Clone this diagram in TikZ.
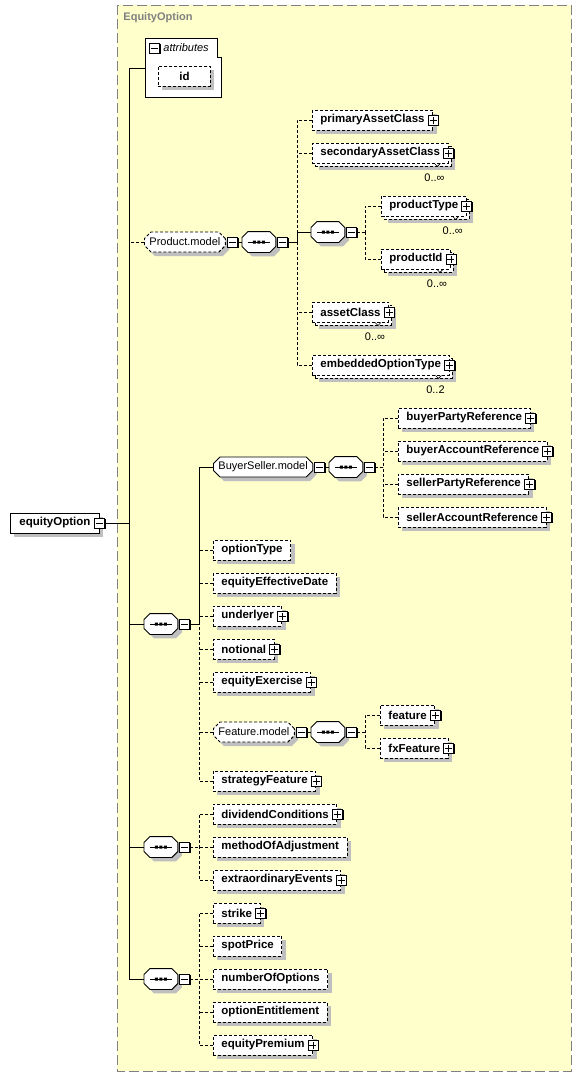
\documentclass[tikz,border=0pt]{standalone}
\usepackage{fontspec}
\setmainfont{Liberation Sans}
\usetikzlibrary{shapes.misc,shadows,positioning}
\definecolor{bgyellow}{RGB}{255,255,204}
\definecolor{framegray}{RGB}{128,128,128}
% outline of a sequence compositor round node #1, moved by #2
\newcommand{\octpath}[2]{([shift={(#2+6,#2)}]#1.north west) -- ([shift={(#2-6,#2)}]#1.north east)
  -- ([shift={(#2,#2+6)}]#1.north east) -- ([shift={(#2,#2-6)}]#1.south east)
  -- ([shift={(#2-6,#2)}]#1.south east) -- ([shift={(#2+6,#2)}]#1.south west)
  -- ([shift={(#2,#2-6)}]#1.south west) -- ([shift={(#2,#2+6)}]#1.north west) -- cycle}
\newcommand{\seqshape}[1]{%
  \fill[black!25] \octpath{#1}{4};
  \draw[fill=white] \octpath{#1}{0};
  \draw[line width=1pt] ([xshift=-11pt]#1.center) -- ([xshift=11pt]#1.center);
  \fill ([shift={(-6,-1.5)}]#1.center) rectangle ++(3,3)
        ([shift={(-1.5,-1.5)}]#1.center) rectangle ++(3,3)
        ([shift={(3,-1.5)}]#1.center) rectangle ++(3,3);}

\begin{document}
\begin{tikzpicture}[x=1pt,y=-1pt,line width=0.9pt,
  dashline/.style={dash pattern=on 3pt off 2pt},
  shad/.style={drop shadow={shadow xshift=4pt,shadow yshift=-4pt,fill=black!25,draw=none,opacity=1}},
  xbox/.style={draw,fill=white,dashline,anchor=west,minimum height=20pt,inner xsep=8pt,inner ysep=0pt,font=\bfseries\fontsize{11.5}{13}\selectfont},
  elem/.style={xbox,shad},
  simple/.style={path picture={\draw[solid,line width=0.6pt]
      ([shift={(2pt,1pt)}]path picture bounding box.north west) -- ++(5pt,0pt)
      ([shift={(2pt,2.8pt)}]path picture bounding box.north west) -- ++(5pt,0pt)
      ([shift={(2pt,4.6pt)}]path picture bounding box.north west) -- ++(5pt,0pt);}},
  mult/.style={font=\fontsize{11}{13}\selectfont,inner sep=0pt},
  plusbox/.style={draw,fill=white,solid,minimum size=10pt,inner sep=0pt,line width=0.8pt,
    drop shadow={shadow xshift=1.3pt,shadow yshift=-1.3pt,fill=black,draw=none,opacity=1},
    path picture={\draw[line width=0.8pt]
      ([xshift=-3.5pt]path picture bounding box.center) -- ([xshift=3.5pt]path picture bounding box.center)
      ([yshift=-3.5pt]path picture bounding box.center) -- ([yshift=3.5pt]path picture bounding box.center);}},
  minusbox/.style={draw,fill=white,solid,minimum size=10pt,inner sep=0pt,line width=0.8pt,
    drop shadow={shadow xshift=1.3pt,shadow yshift=-1.3pt,fill=black,draw=none,opacity=1},
    path picture={\draw[line width=0.8pt]
      ([xshift=-3.5pt]path picture bounding box.center) -- ([xshift=3.5pt]path picture bounding box.center);}},
  model/.style={chamfered rectangle,chamfered rectangle xsep=3pt,draw,fill=white,anchor=west,
    minimum height=20pt,inner xsep=2pt,inner ysep=0pt,shad,font=\fontsize{11}{13}\selectfont},
  seqbox/.style={rectangle,anchor=west,minimum width=33pt,minimum height=20pt,inner sep=0pt}]

\useasboundingbox (0,0) rectangle (581,1077);

% frame of the complex type
\fill[bgyellow] (117,5) rectangle (571,1071);
\draw[framegray,line width=1pt,dash pattern=on 10pt off 4pt] (117,5) rectangle (571,1071);
\node[anchor=west,inner sep=0pt,text=framegray,font=\bfseries\fontsize{11}{13}\selectfont] (title) at (123,18) {EquityOption};

% attributes
\draw[fill=white] (145,38) -- (217,38) -- (217,57) -- (221,57) -- (221,97) -- (145,97) -- cycle;
\node[minusbox] (attm) at (154.5,48) {};
\node[anchor=west,inner sep=0pt,font=\itshape\fontsize{11}{13}\selectfont] (atttxt) at (163,48) {attributes};
\node[elem,inner xsep=8pt,minimum width=52pt] (id) at (158,76) {id};
\coordinate (attin) at (145,68);
\coordinate (t0) at (129.5,68);

% root
\node[xbox,solid,shad,inner xsep=9pt] (eO) at (10,523) {equityOption\hspace{3pt}};
\node[minusbox] (eOm) at (eO.east) {};

% Product.model
\node[model,dashline] (pM) at (144,242) {Product.model};
\node[minusbox,anchor=west] (pMm) at ([xshift=1pt]pM.east) {};
\node[seqbox] (sP) at (242,242) {};
\seqshape{sP}
\node[minusbox,anchor=west] (sPm) at ([xshift=1pt]sP.east) {};
\coordinate (bP) at (297,242);

\node[elem,simple] (pAC) at (312,120) {primaryAssetClass\hspace{5pt}};
\node[plusbox] (pACp) at (pAC.east) {};

\node[elem] (sACb) at (315,156) {\phantom{secondaryAssetClass}\hspace{5pt}};
\node[xbox,simple] (sAC) at (312,153) {secondaryAssetClass\hspace{5pt}};
\node[plusbox] (sACp) at (sAC.east) {};
\draw[solid,line width=0.6pt] ([xshift=-14pt]sAC.south east) -- ++(3,3) -- ++(3,-3);
\node[mult] (sACn) at ([shift={(-14,14)}]sAC.south east) {0..∞};

\node[seqbox] (sPI) at (311,232) {};
\seqshape{sPI}
\node[minusbox,anchor=west] (sPIm) at ([xshift=1pt]sPI.east) {};
\coordinate (bPI) at (365,232);

\node[elem] (pTb) at (384,209) {\phantom{productType}\hspace{5pt}};
\node[xbox,simple] (pT) at (381,206) {productType\hspace{5pt}};
\node[plusbox] (pTp) at (pT.east) {};
\draw[solid,line width=0.6pt] ([xshift=-14pt]pT.south east) -- ++(3,3) -- ++(3,-3);
\node[mult] (pTn) at ([shift={(-14,14)}]pT.south east) {0..∞};

\node[elem] (pIb) at (384,262) {\phantom{productId}\hspace{5pt}};
\node[xbox,simple] (pI) at (381,259) {productId\hspace{5pt}};
\node[plusbox] (pIp) at (pI.east) {};
\draw[solid,line width=0.6pt] ([xshift=-14pt]pI.south east) -- ++(3,3) -- ++(3,-3);
\node[mult] (pIn) at ([shift={(-14,14)}]pI.south east) {0..∞};

\node[elem] (aCb) at (315,315) {\phantom{assetClass}\hspace{5pt}};
\node[xbox,simple] (aC) at (312,312) {assetClass\hspace{5pt}};
\node[plusbox] (aCp) at (aC.east) {};
\draw[solid,line width=0.6pt] ([xshift=-14pt]aC.south east) -- ++(3,3) -- ++(3,-3);
\node[mult] (aCn) at ([shift={(-14,14)}]aC.south east) {0..∞};

\node[elem] (eOTb) at (315,368) {\phantom{embeddedOptionType}\hspace{5pt}};
\node[xbox,simple] (eOT) at (312,365) {embeddedOptionType\hspace{5pt}};
\node[plusbox] (eOTp) at (eOT.east) {};
\draw[solid,line width=0.6pt] ([xshift=-14pt]eOT.south east) -- ++(3,3) -- ++(3,-3);
\node[mult] (eOTn) at ([shift={(-14,14)}]eOT.south east) {0..2};

% first sequence
\node[seqbox] (s1) at (144,624) {};
\seqshape{s1}
\node[minusbox,anchor=west] (s1m) at ([xshift=1pt]s1.east) {};
\coordinate (b1) at (199,624);

\node[model] (bSM) at (213,467) {BuyerSeller.model};
\node[minusbox,anchor=west] (bSMm) at ([xshift=1pt]bSM.east) {};
\node[seqbox] (sB) at (329,467) {};
\seqshape{sB}
\node[minusbox,anchor=west] (sBm) at ([xshift=1pt]sB.east) {};
\coordinate (b2) at (383,467);

\node[elem] (bPR) at (398,418) {buyerPartyReference\hspace{5pt}};
\node[plusbox] (bPRp) at (bPR.east) {};
\node[elem] (bAR) at (398,451) {buyerAccountReference\hspace{5pt}};
\node[plusbox] (bARp) at (bAR.east) {};
\node[elem] (sPR) at (398,484) {sellerPartyReference\hspace{5pt}};
\node[plusbox] (sPRp) at (sPR.east) {};
\node[elem] (sAR) at (398,517) {sellerAccountReference\hspace{5pt}};
\node[plusbox] (sARp) at (sAR.east) {};

\node[elem,simple] (oT) at (213,550) {optionType};
\node[elem,simple] (eED) at (213,583) {equityEffectiveDate};
\node[elem] (und) at (213,616) {underlyer\hspace{5pt}};
\node[plusbox] (undp) at (und.east) {};
\node[elem] (nota) at (213,649) {notional\hspace{5pt}};
\node[plusbox] (notap) at (nota.east) {};
\node[elem] (eEx) at (213,682) {equityExercise\hspace{5pt}};
\node[plusbox] (eExp) at (eEx.east) {};

\node[model,dashline] (fM) at (213,732) {Feature.model};
\node[minusbox,anchor=west] (fMm) at ([xshift=1pt]fM.east) {};
\node[seqbox] (sF) at (311,732) {};
\seqshape{sF}
\node[minusbox,anchor=west] (sFm) at ([xshift=1pt]sF.east) {};
\coordinate (b3) at (365,732);

\node[elem] (feat) at (380,715) {feature\hspace{5pt}};
\node[plusbox] (featp) at (feat.east) {};
\node[elem] (fxF) at (380,748) {fxFeature\hspace{5pt}};
\node[plusbox] (fxFp) at (fxF.east) {};

\node[elem] (stF) at (213,781) {strategyFeature\hspace{5pt}};
\node[plusbox] (stFp) at (stF.east) {};

% second sequence
\node[seqbox] (s2) at (144,847) {};
\seqshape{s2}
\node[minusbox,anchor=west] (s2m) at ([xshift=1pt]s2.east) {};
\coordinate (b4) at (199,847);

\node[elem] (dC) at (213,814) {dividendConditions\hspace{5pt}};
\node[plusbox] (dCp) at (dC.east) {};
\node[elem,simple] (mOA) at (213,847) {methodOfAdjustment};
\node[elem] (eEv) at (213,880) {extraordinaryEvents\hspace{5pt}};
\node[plusbox] (eEvp) at (eEv.east) {};

% third sequence
\node[seqbox] (s3) at (144,979) {};
\seqshape{s3}
\node[minusbox,anchor=west] (s3m) at ([xshift=1pt]s3.east) {};
\coordinate (b5) at (199,979);

\node[elem] (str) at (213,913) {strike\hspace{5pt}};
\node[plusbox] (strp) at (str.east) {};
\node[elem,simple] (sPr) at (213,946) {spotPrice};
\node[elem,simple] (nOO) at (213,979) {numberOfOptions};
\node[elem,simple] (oE) at (213,1012) {optionEntitlement};
\node[elem] (eP) at (213,1045) {equityPremium\hspace{5pt}};
\node[plusbox] (ePp) at (eP.east) {};

% connectors
\draw (attin) -- (t0) |- (s3.west);
\draw (eOm.east) -- (eOm.east -| t0);
\draw[dashline] (pM.west) -- (pM.west -| t0);
\draw (s1.west) -- (s1.west -| t0);
\draw (s2.west) -- (s2.west -| t0);

\draw (pMm.east) -- (sP.west);
\draw (sPm.east) -- (bP) |- (sPI.west);
\draw[dashline] (pAC.west) -| (bP |- sPI.west);
\draw[dashline] (sAC.west) -- (sAC.west -| bP);
\draw[dashline] (aC.west) -- (aC.west -| bP);
\draw[dashline] (eOT.west) -| (bP);
\draw[dashline] (sPIm.east) -- (bPI);
\draw[dashline] (pT.west) -| (bPI);
\draw[dashline] (pI.west) -| (bPI);

\draw (s1m.east) -- (b1) |- (bSM.west);
\draw (bSMm.east) -- (sB.west);
\draw[dashline] (sBm.east) -- (b2);
\draw[dashline] (bPR.west) -| (b2);
\draw[dashline] (sAR.west) -| (b2);
\draw[dashline] (bAR.west) -- (bAR.west -| b2);
\draw[dashline] (sPR.west) -- (sPR.west -| b2);
\draw[dashline] (stF.west) -| (b1);
\draw[dashline] (oT.west) -- (oT.west -| b1);
\draw[dashline] (eED.west) -- (eED.west -| b1);
\draw[dashline] (und.west) -- (und.west -| b1);
\draw[dashline] (nota.west) -- (nota.west -| b1);
\draw[dashline] (eEx.west) -- (eEx.west -| b1);
\draw[dashline] (fM.west) -- (fM.west -| b1);
\draw (fMm.east) -- (sF.west);
\draw[dashline] (sFm.east) -- (b3);
\draw[dashline] (feat.west) -| (b3);
\draw[dashline] (fxF.west) -| (b3);

\draw[dashline] (s2m.east) -- (b4);
\draw[dashline] (dC.west) -| (b4);
\draw[dashline] (eEv.west) -| (b4);
\draw[dashline] (mOA.west) -- (b4);

\draw[dashline] (s3m.east) -- (b5);
\draw[dashline] (str.west) -| (b5);
\draw[dashline] (eP.west) -| (b5);
\draw[dashline] (sPr.west) -- (sPr.west -| b5);
\draw[dashline] (oE.west) -- (oE.west -| b5);
\draw[dashline] (nOO.west) -- (b5);
\end{tikzpicture}
\end{document}
